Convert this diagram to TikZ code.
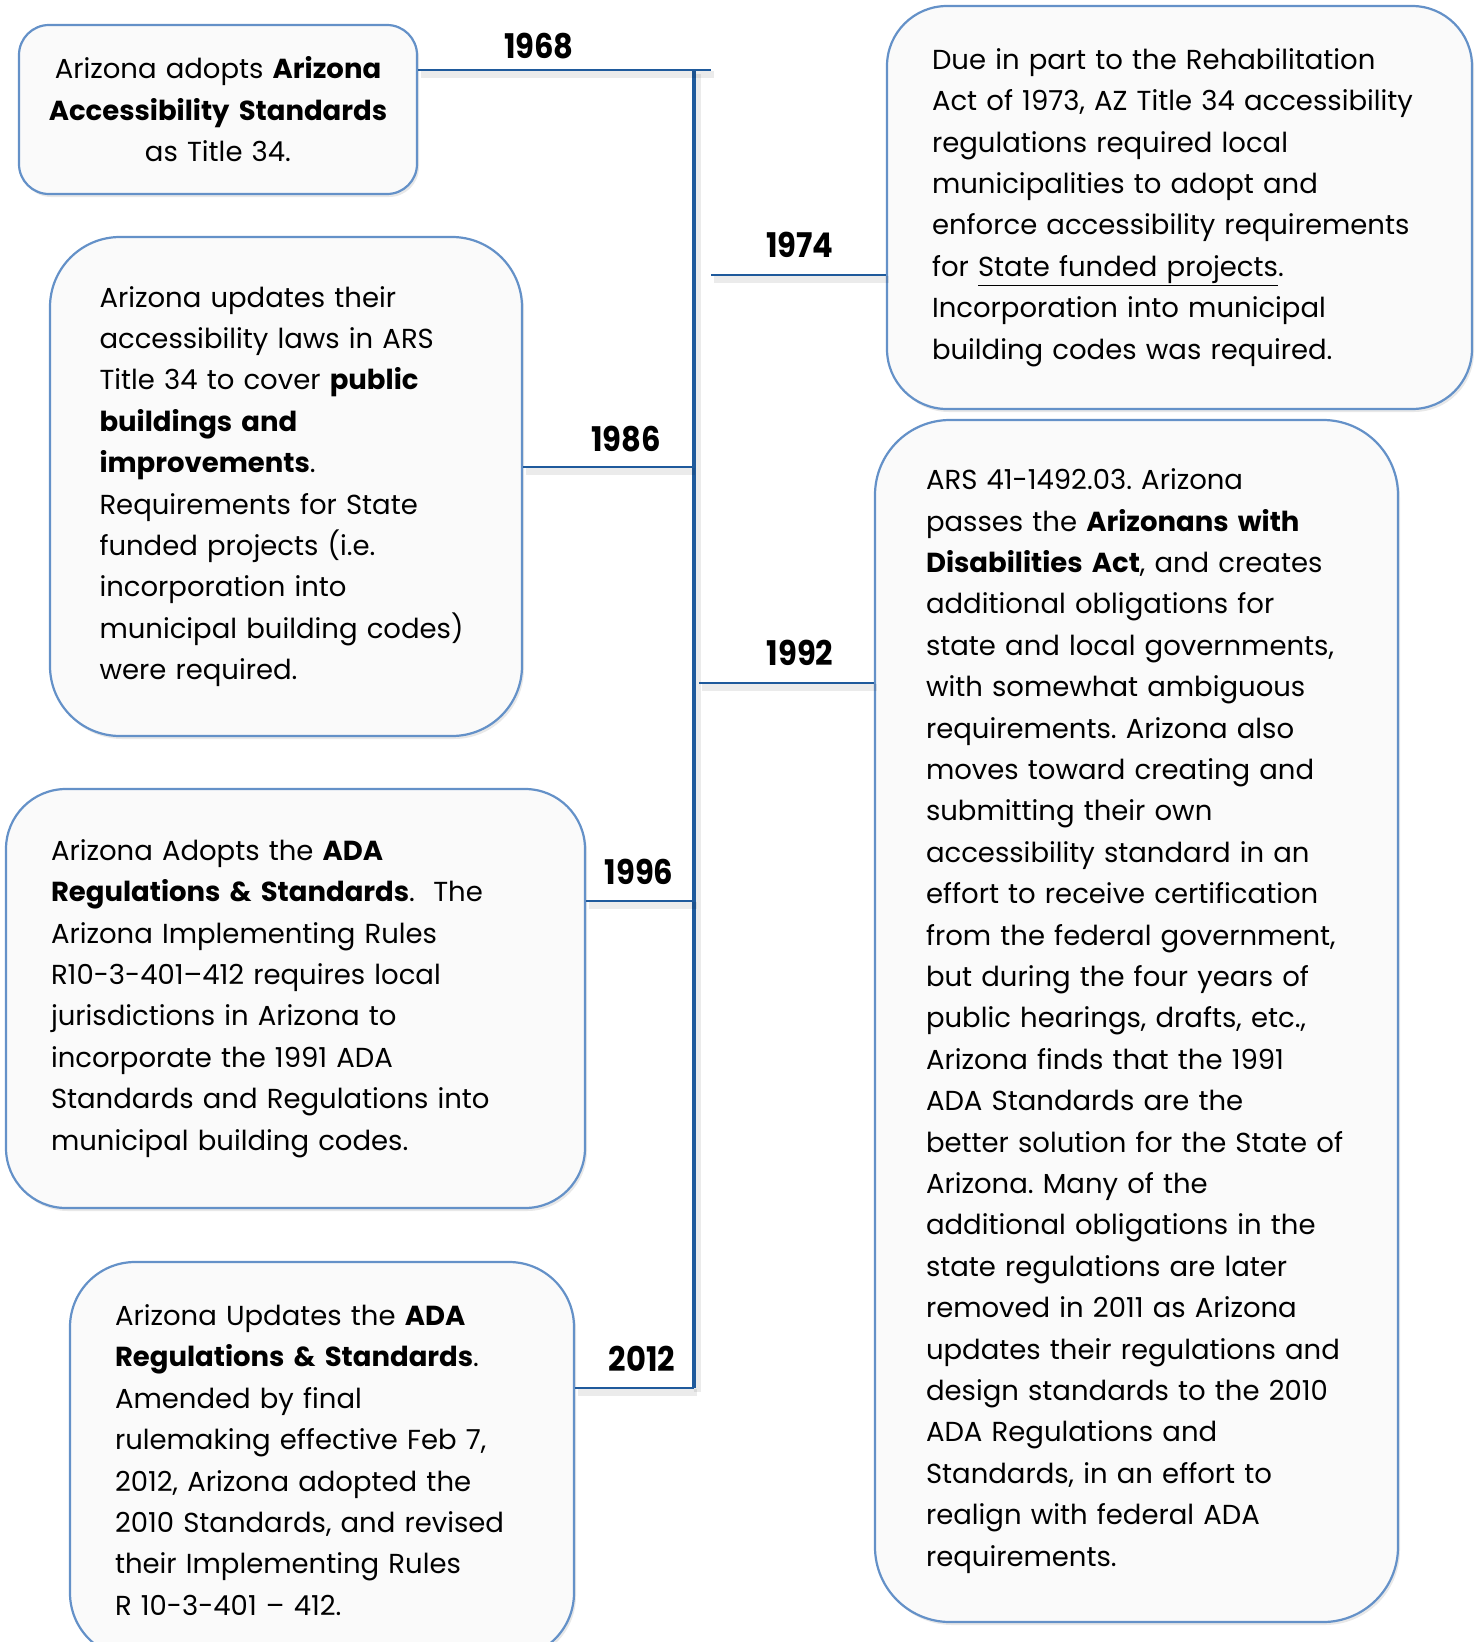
\documentclass[tikz,border=0pt]{standalone}
\usepackage{fontspec}
\setmainfont{Poppins}
\newfontfamily\yearfont{Poppins}[FakeStretch=0.9]
\usetikzlibrary{shadows, calc}
\definecolor{linkblue}{RGB}{31, 90, 156}
\definecolor{boxedge}{RGB}{100, 145, 200}
\definecolor{boxfill}{RGB}{250, 250, 250}
\frenchspacing

\tikzset{
  eventbox/.style={draw=boxedge, line width=2.2pt, fill=boxfill,
    rounded corners=60pt, align=left, inner ysep=0pt,
    font=\fontsize{27.5}{41.4}\selectfont,
    drop shadow={opacity=0.18, shadow xshift=2pt, shadow yshift=-3pt}},
  yearlbl/.style={font=\yearfont\bfseries\fontsize{34}{34}\selectfont, inner sep=0pt},
  tline/.style={draw=linkblue, line width=2.6pt,
    preaction={draw=black, opacity=0.08, line width=7pt,
      transform canvas={xshift=3pt, yshift=-4pt}}},
}

\begin{document}
\begin{tikzpicture}[x=1pt, y=-1pt]
  \useasboundingbox (0,0) rectangle (1477,1642);
  \clip (0,0) rectangle (1477,1642);

  % spine and its joints
  \coordinate (spinetop) at (694,70);
  \coordinate (spinebot) at (694,1388);
  \coordinate (s68) at (711,70);
  \coordinate (s74) at (711,275);
  \coordinate (s86) at (692,467);
  \coordinate (s92) at (699,683);
  \coordinate (s96) at (694,901);

  % events
  \node[eventbox, rounded corners=30pt, align=center, inner xsep=9pt,
        text width=380pt, minimum width=398pt, minimum height=169pt]
    (ev68) at (218,109.5)
    {Arizona adopts \textbf{Arizona}\\
     \textbf{Accessibility Standards}\\
     as Title 34.};

  \node[eventbox, inner xsep=45pt, text width=495pt,
        minimum width=585pt, minimum height=403pt]
    (ev74) at (1179.5,207.5)
    {Due in part to the Rehabilitation\\
     Act of 1973, AZ Title 34 accessibility\\
     regulations required local\\
     municipalities to adopt and\\
     enforce accessibility requirements\\
     for \underline{State funded projects}.\\
     Incorporation into municipal\\
     building codes was required.};

  \node[eventbox, rounded corners=70pt, inner xsep=49.5pt, text width=373pt,
        minimum width=472pt, minimum height=499pt]
    (ev86) at (286,486.5)
    {Arizona updates their\\
     accessibility laws in ARS\\
     Title 34 to cover \textbf{public}\\
     \textbf{buildings and}\\
     \textbf{improvements}.\\
     Requirements for State\\
     funded projects (i.e.\\
     incorporation into\\
     municipal building codes)\\
     were required.};

  \node[eventbox, rounded corners=75pt, inner xsep=51pt, text width=421pt,
        minimum width=523pt, minimum height=1202pt]
    (ev92) at (1136.5,1021)
    {ARS 41-1492.03. Arizona\\
     passes the \textbf{Arizonans with}\\
     \textbf{Disabilities Act}, and creates\\
     additional obligations for\\
     state and local governments,\\
     with somewhat ambiguous\\
     requirements. Arizona also\\
     moves toward creating and\\
     submitting their own\\
     accessibility standard in an\\
     effort to receive certification\\
     from the federal government,\\
     but during the four years of\\
     public hearings, drafts, etc.,\\
     Arizona finds that the 1991\\
     ADA Standards are the\\
     better solution for the State of\\
     Arizona. Many of the\\
     additional obligations in the\\
     state regulations are later\\
     removed in 2011 as Arizona\\
     updates their regulations and\\
     design standards to the 2010\\
     ADA Regulations and\\
     Standards, in an effort to\\
     realign with federal ADA\\
     requirements.};

  \node[eventbox, inner xsep=45pt, text width=489pt,
        minimum width=579pt, minimum height=419pt]
    (ev96) at (295.5,998.5)
    {Arizona Adopts the \textbf{ADA}\\
     \textbf{Regulations \& Standards}.\ \ The\\
     Arizona Implementing Rules\\
     R10-3-401--412 requires local\\
     jurisdictions in Arizona to\\
     incorporate the 1991 ADA\\
     Standards and Regulations into\\
     municipal building codes.};

  \node[eventbox, rounded corners=65pt, inner xsep=45pt, text width=414pt,
        minimum width=504pt, minimum height=396pt]
    (ev12) at (322,1460)
    {Arizona Updates the \textbf{ADA}\\
     \textbf{Regulations \& Standards}.\\
     Amended by final\\
     rulemaking effective Feb 7,\\
     2012, Arizona adopted the\\
     2010 Standards, and revised\\
     their Implementing Rules\\
     R 10-3-401 -- 412.};

  % timeline
  \draw[tline, line width=3.2pt] (spinetop) -- (spinebot);
  \draw[tline] (s68 -| ev68.east) -- (s68);
  \draw[tline] (s74) -- (s74 -| ev74.west);
  \draw[tline] (s86 -| ev86.east) -- (s86);
  \draw[tline] (s92) -- (s92 -| ev92.west);
  \draw[tline] (s96 -| ev96.east) -- (s96);
  \draw[tline] (spinebot -| ev12.east) -- (spinebot);

  % years
  \node[yearlbl] (y68) at (539,46) {1968};
  \node[yearlbl] (y74) at (800,245) {1974};
  \node[yearlbl] (y86) at (626,439) {1986};
  \node[yearlbl] (y92) at (800,653) {1992};
  \node[yearlbl] (y96) at (639,872) {1996};
  \node[yearlbl] (y12) at (642,1359) {2012};
\end{tikzpicture}
\end{document}
